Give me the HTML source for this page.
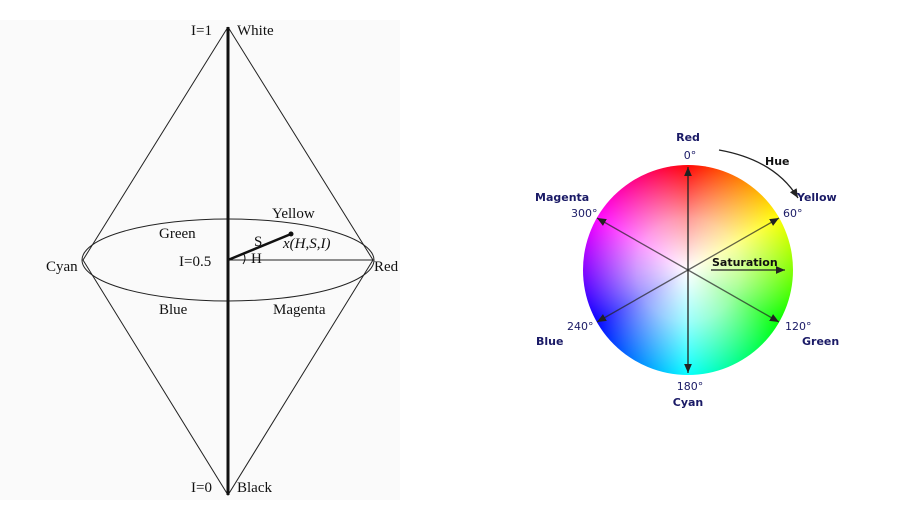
<!DOCTYPE html>
<html><head><meta charset="utf-8"><style>
html,body{margin:0;padding:0;background:#fff;}
body{width:901px;height:521px;position:relative;overflow:hidden;}
svg{position:absolute;left:0;top:0;}
.s{font-family:"Liberation Serif",serif;font-size:15px;fill:#111;}
.b{font-family:"DejaVu Sans","Liberation Sans",sans-serif;font-size:11px;font-weight:bold;fill:#1a1a66;}
.n{font-family:"DejaVu Sans","Liberation Sans",sans-serif;font-size:11px;fill:#1a1a66;}
#wheel{position:absolute;left:583px;top:165px;width:210px;height:210px;border-radius:50%;
background:radial-gradient(circle,rgba(255,255,255,1) 0%,rgba(255,255,255,0.6) 35%,rgba(255,255,255,0) 72%),conic-gradient(#f00,#ff0,#0f0,#0ff,#00f,#f0f,#f00);}
</style></head><body>
<svg width="901" height="521">
<defs><marker id="ah" markerWidth="8" markerHeight="8" refX="7" refY="4" orient="auto"><path d="M0,1 L7,4 L0,7 z" fill="#222"/></marker></defs>
<rect x="0" y="20" width="400" height="480" fill="#fafafa"/>
<g stroke="#222" stroke-width="1" fill="none">
<polyline points="228,27 83,260 228,495 373,260 228,27"/>
<ellipse cx="228" cy="260" rx="146" ry="41"/>
<line x1="228" y1="260" x2="373" y2="260"/>
</g>
<line x1="228" y1="27" x2="228" y2="495" stroke="#111" stroke-width="3"/>
<line x1="228" y1="260" x2="291" y2="234" stroke="#111" stroke-width="2.5"/>
<circle cx="291" cy="234" r="2.5" fill="#111"/>
<path d="M243,253 Q247,258 243,264" stroke="#111" fill="none"/>
<text class="s" x="191" y="35">I=1</text>
<text class="s" x="237" y="35">White</text>
<text class="s" x="191" y="492">I=0</text>
<text class="s" x="237" y="492">Black</text>
<text class="s" x="46" y="271">Cyan</text>
<text class="s" x="374" y="271">Red</text>
<text class="s" x="179" y="266">I=0.5</text>
<text class="s" x="272" y="218">Yellow</text>
<text class="s" x="159" y="238">Green</text>
<text class="s" x="159" y="314">Blue</text>
<text class="s" x="273" y="314">Magenta</text>
<text class="s" x="254" y="246">S</text>
<text class="s" x="251" y="263">H</text>
<text class="s" x="283" y="248" font-style="italic">x(H,S,I)</text>
</svg>
<div id="wheel"></div>
<svg width="901" height="521">
<g stroke="#222" stroke-width="1.3" fill="none">
<line x1="688" y1="270" x2="688" y2="167" marker-end="url(#ah)"/>
<line x1="688" y1="270" x2="688" y2="373" marker-end="url(#ah)"/>
<line x1="688" y1="270" x2="779" y2="218" marker-end="url(#ah)" stroke-opacity="0.7"/>
<line x1="688" y1="270" x2="597" y2="322" marker-end="url(#ah)" stroke-opacity="0.7"/>
<line x1="688" y1="270" x2="597" y2="218" marker-end="url(#ah)" stroke-opacity="0.7"/>
<line x1="688" y1="270" x2="779" y2="322" marker-end="url(#ah)" stroke-opacity="0.7"/>
<line x1="711" y1="270" x2="785" y2="270" marker-end="url(#ah)"/>
<path d="M719,150 Q775,160 798,198" marker-end="url(#ah)"/>
</g>
<text class="b" x="688" y="141" text-anchor="middle">Red</text>
<text class="n" x="690" y="159" text-anchor="middle">0°</text>
<text class="b" x="765" y="165" style="fill:#111">Hue</text>
<text class="b" x="797" y="201">Yellow</text>
<text class="n" x="783" y="217">60°</text>
<text class="b" x="535" y="201">Magenta</text>
<text class="n" x="571" y="217">300°</text>
<text class="b" x="712" y="266" style="fill:#111">Saturation</text>
<text class="n" x="567" y="330">240°</text>
<text class="b" x="536" y="345">Blue</text>
<text class="n" x="785" y="330">120°</text>
<text class="b" x="802" y="345">Green</text>
<text class="n" x="690" y="390" text-anchor="middle">180°</text>
<text class="b" x="688" y="406" text-anchor="middle">Cyan</text>
</svg>
</body></html>
